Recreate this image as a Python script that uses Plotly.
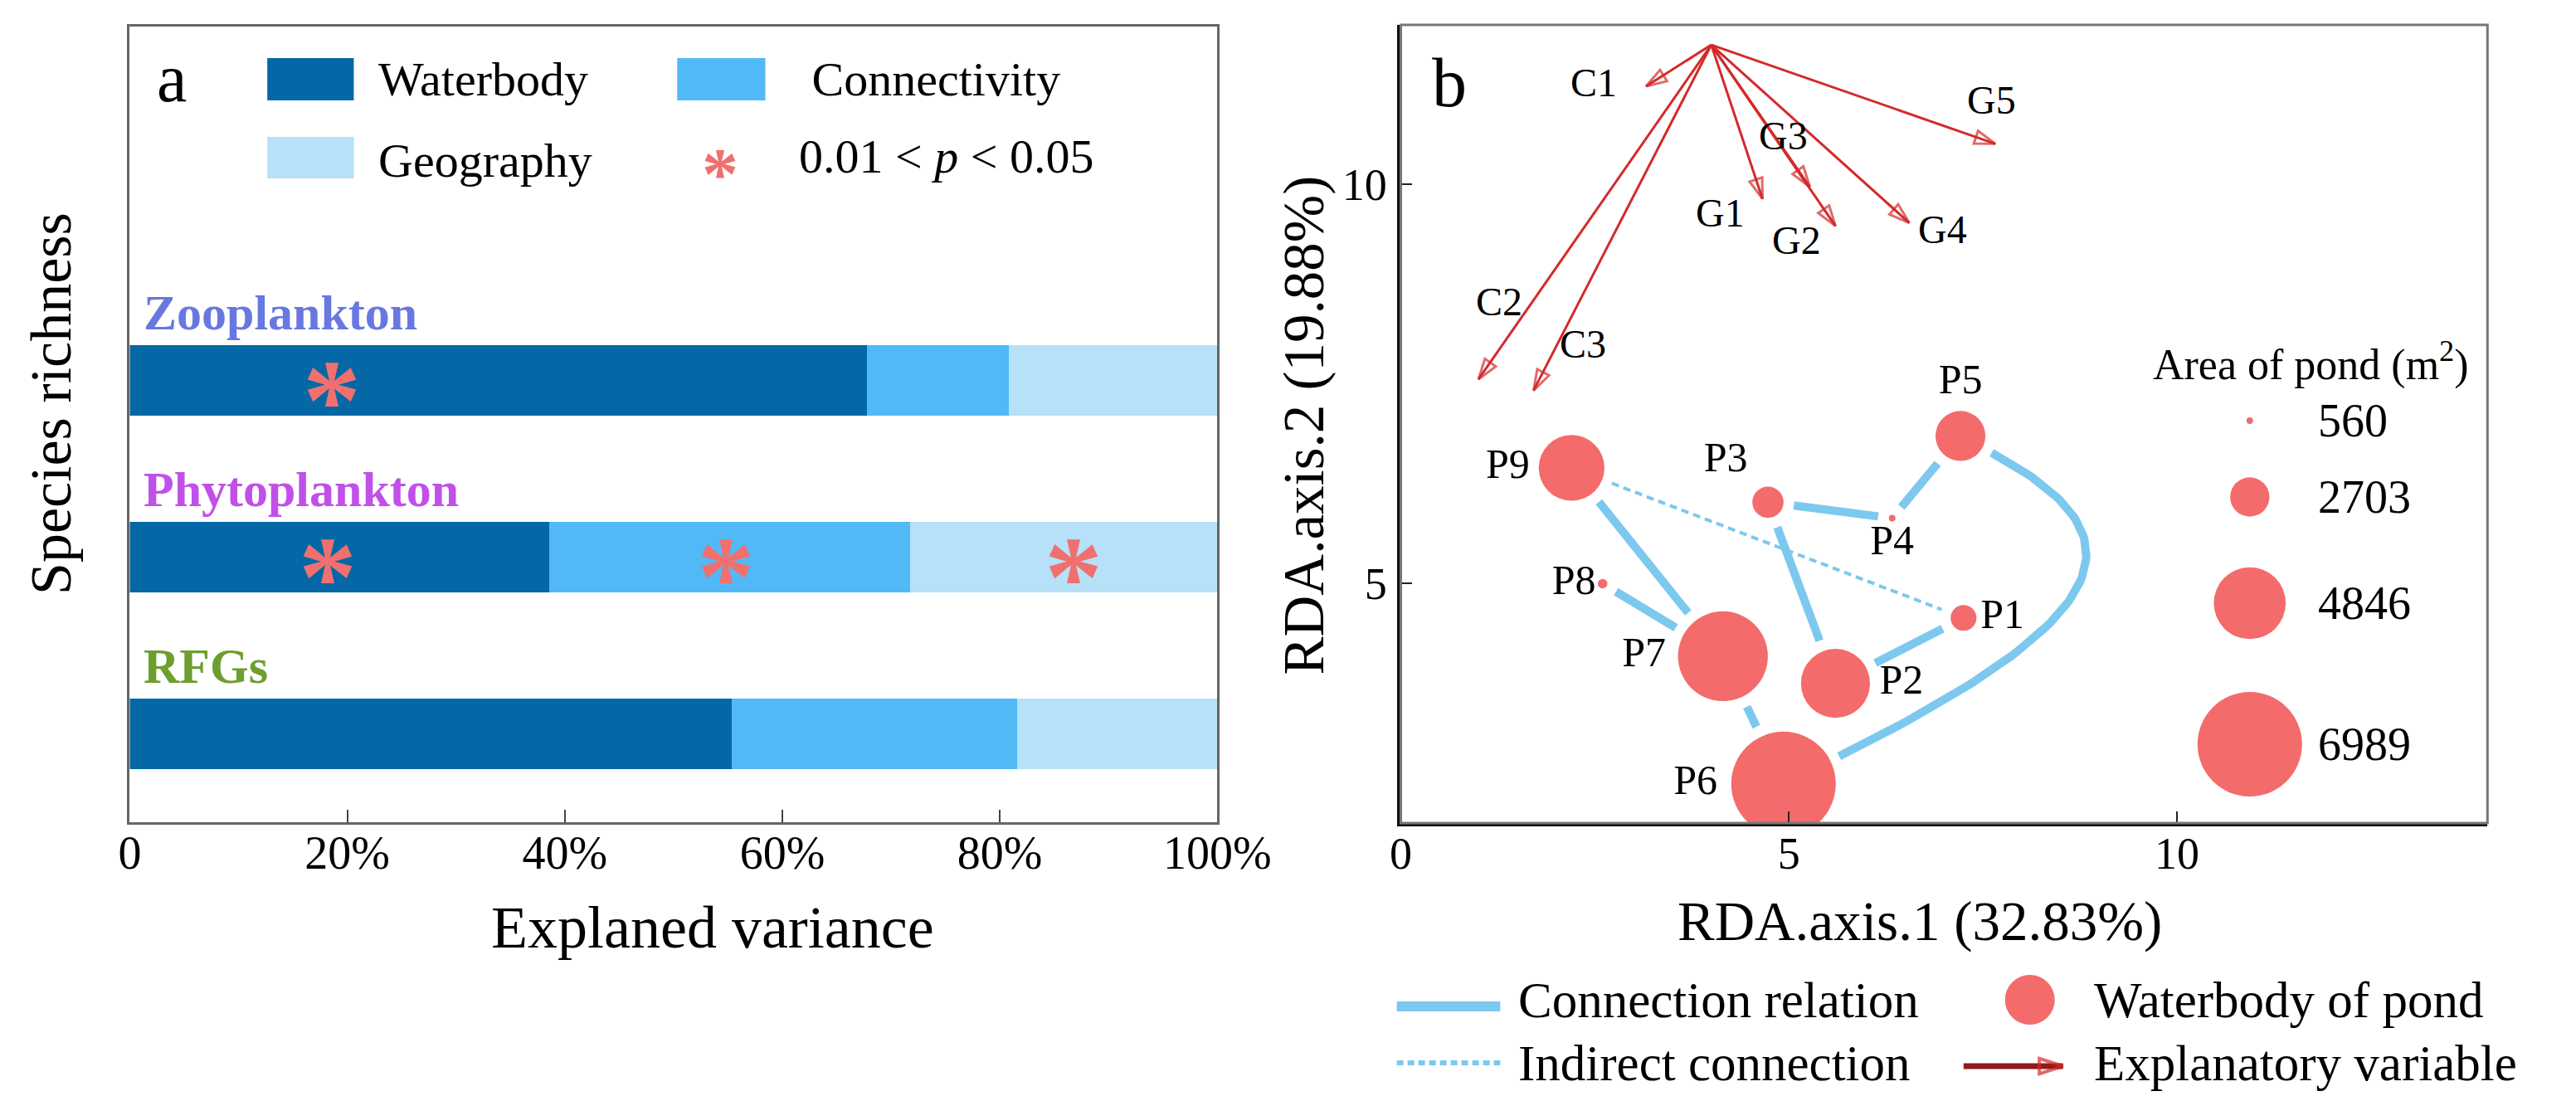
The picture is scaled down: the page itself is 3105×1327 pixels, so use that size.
import numpy as np
import plotly.graph_objects as go

W, H = 3105, 1327
FONT = "Liberation Serif"
STAR_FONT = "Liberation Serif"

# ---------------- data: panel a ----------------
groups = ["Zooplankton", "Phytoplankton", "RFGs"]
group_y = [2, 1, 0]
waterbody = [67.8, 38.6, 55.4]
connectivity = [13.1, 33.2, 26.2]
geography = [19.1, 28.2, 18.4]
star_groups = ["Zooplankton", "Phytoplankton", "Phytoplankton", "Phytoplankton"]
star_x = [18.6, 18.2, 54.8, 86.8]
a_tickvals = [0, 20, 40, 60, 80, 100]
a_ticktext = ["0", "20%", "40%", "60%", "80%", "100%"]

# ---------------- data: panel b ----------------
ponds = ["P1", "P2", "P3", "P4", "P5", "P6", "P7", "P8", "P9"]
pond_x = [7.25, 5.60, 4.73, 6.33, 7.21, 4.93, 4.15, 2.60, 2.20]
pond_y = [4.57, 3.75, 6.02, 5.82, 6.85, 2.49, 4.09, 5.00, 6.45]
pond_area = [1817, 4658, 2172, 560, 3401, 6989, 6024, 750, 4440]
links = [("P9", "P7"), ("P8", "P7"), ("P7", "P6"), ("P3", "P4"),
         ("P4", "P5"), ("P3", "P2"), ("P2", "P1")]
curved_links = [("P5", "P6")]
indirect_links = [("P9", "P1")]
variables = ["C1", "C2", "C3", "G1", "G2", "G3", "G4", "G5"]
var_x = [3.16, 1.00, 1.71, 4.66, 5.60, 5.27, 6.55, 7.66]
var_y = [11.23, 7.56, 7.42, 9.82, 9.48, 9.97, 9.52, 10.51]
var_origin = [4.0, 11.75]
area_levels = [560, 2703, 4846, 6989]
b_xticks = [0, 5, 10]
b_yticks = [5, 10]

# ---------------- style / layout ----------------
C_WATER, C_CONN, C_GEO = "#0568A6", "#52B9F7", "#B6E1F8"
C_STAR, C_POND, C_LINK, C_ARROW = "#F07070", "#F46B6B", "#7DC8EE", "#D42A2A"
label_colors = {"Zooplankton": "#6878E0", "Phytoplankton": "#C050E8", "RFGs": "#6E9E2E"}

A_L, A_R, A_T, A_B = 138, 1483, 24, 983
B_L, B_R, B_T, B_B = 1710, 3054, 22, 984
B_XR, B_YR = [0, 14], [2, 12]
PPU = (B_R - B_L) / (B_XR[1] - B_XR[0])

pond_textpos = {"P1": "middle right", "P2": "middle right", "P3": "top left",
                "P4": "bottom center", "P5": "top center", "P6": "middle left",
                "P7": "middle left", "P8": "middle left", "P9": "middle left"}
var_label_pos = {"C1": (2.48, 11.28), "C2": (1.27, 8.53), "C3": (2.35, 8.0),
                 "G1": (4.12, 9.65), "G2": (5.1, 9.3), "G3": (4.93, 10.61),
                 "G4": (6.98, 9.44), "G5": (7.61, 11.06)}
curve_ctrl = [(9.6, 5.6), (9.3, 4.6)]
LINK_GAP = 0.14  # data units between circle edge and line end
size_leg_px = (2760, [499, 591, 719, 889])  # pixel placement of the size legend


def px(x):
    return x / W


def py(y):
    return 1 - y / H


def bx(xpix):
    return B_XR[0] + (xpix - B_L) / PPU


def by(ypix):
    return B_YR[0] + (B_B - ypix) / ((B_B - B_T) / (B_YR[1] - B_YR[0]))


def diam(a):
    lo, hi = min(area_levels), max(area_levels)
    return 8 + (a - lo) * (126 - 8) / (hi - lo)


def ptext(txt, xx, yy, size, xanchor="center", yanchor="middle", angle=0, color="black",
          family=FONT, yshift=0):
    return dict(x=px(xx), y=py(yy), xref="paper", yref="paper", xanchor=xanchor,
                yanchor=yanchor, showarrow=False, text=txt, textangle=angle, yshift=yshift,
                font=dict(family=family, size=size, color=color))


fig = go.Figure()

# ---------- panel a: stacked bars ----------
for name, vals, col in [("Waterbody", waterbody, C_WATER),
                        ("Connectivity", connectivity, C_CONN),
                        ("Geography", geography, C_GEO)]:
    fig.add_trace(go.Bar(x=vals, y=group_y, orientation="h", name=name,
                         marker=dict(color=col, line=dict(width=0)),
                         width=0.4, xaxis="x", yaxis="y"))

annotations = []
for g, sx in zip(star_groups, star_x):
    annotations.append(dict(x=sx, y=group_y[groups.index(g)], xref="x", yref="y",
                            xanchor="center", yanchor="middle",
                            text="<b>*</b>", showarrow=False, yshift=-24,
                            font=dict(family=STAR_FONT, size=140, color=C_STAR)))
for g, gy in zip(groups, group_y):
    annotations.append(dict(x=1.1, y=gy + 0.38, xref="x", yref="y", xanchor="left",
                            yanchor="middle", showarrow=False,
                            text="<b>%s</b>" % g,
                            font=dict(family=FONT, size=60, color=label_colors[g])))

# ---------- panel b ----------
pidx = {p: i for i, p in enumerate(ponds)}
prad = [diam(a) / 2 / PPU for a in pond_area]


def shrunk(p1, p2):
    i, j = pidx[p1], pidx[p2]
    x0, y0, x1, y1 = pond_x[i], pond_y[i], pond_x[j], pond_y[j]
    d = np.hypot(x1 - x0, y1 - y0)
    ux, uy = (x1 - x0) / d, (y1 - y0) / d
    s0, s1 = prad[i] + LINK_GAP, prad[j] + LINK_GAP
    return [x0 + ux * s0, x1 - ux * s1], [y0 + uy * s0, y1 - uy * s1]


for p1, p2 in indirect_links:
    xs, ys = shrunk(p1, p2)
    fig.add_trace(go.Scatter(x=xs, y=ys, mode="lines", xaxis="x2", yaxis="y2",
                             line=dict(color=C_LINK, width=4, dash="9px,6px")))
for p1, p2 in links:
    xs, ys = shrunk(p1, p2)
    fig.add_trace(go.Scatter(x=xs, y=ys, mode="lines", xaxis="x2", yaxis="y2",
                             line=dict(color=C_LINK, width=10)))
for p1, p2 in curved_links:
    i, j = pidx[p1], pidx[p2]
    c1, c2 = np.array(curve_ctrl[0]), np.array(curve_ctrl[1])
    a0 = np.array([pond_x[i], pond_y[i]])
    a1 = np.array([pond_x[j], pond_y[j]])
    d0 = (c1 - a0) / np.linalg.norm(c1 - a0)
    d1 = (c2 - a1) / np.linalg.norm(c2 - a1)
    s = a0 + d0 * (prad[i] + LINK_GAP)
    e = a1 + d1 * (prad[j] + LINK_GAP)
    t = np.linspace(0, 1, 80)[:, None]
    pts = (1 - t) ** 3 * s + 3 * (1 - t) ** 2 * t * c1 + 3 * (1 - t) * t ** 2 * c2 + t ** 3 * e
    fig.add_trace(go.Scatter(x=pts[:, 0], y=pts[:, 1], mode="lines", xaxis="x2", yaxis="y2",
                             line=dict(color=C_LINK, width=10)))

fig.add_trace(go.Scatter(x=pond_x, y=pond_y, mode="markers+text", xaxis="x2", yaxis="y2",
                         text=ponds, textposition=[pond_textpos[p] for p in ponds],
                         textfont=dict(family=FONT, size=50, color="black"),
                         marker=dict(size=[diam(a) for a in pond_area], color=C_POND,
                                     line=dict(width=0), opacity=1)))

for v, vx, vy in zip(variables, var_x, var_y):
    fig.add_trace(go.Scatter(x=[var_origin[0], vx], y=[var_origin[1], vy],
                             mode="lines+markers", xaxis="x2", yaxis="y2",
                             line=dict(color=C_ARROW, width=3),
                             marker=dict(symbol="arrow-open", size=[0, 26], angleref="previous",
                                         color=C_ARROW, line=dict(color=C_ARROW, width=3))))
    lx, ly = var_label_pos[v]
    annotations.append(dict(x=lx, y=ly, xref="x2", yref="y2", text=v, showarrow=False,
                            xanchor="center", yanchor="middle",
                            font=dict(family=FONT, size=48, color="black")))

# size legend (inside panel b)
sx_pix, sy_pix = size_leg_px
fig.add_trace(go.Scatter(x=[bx(sx_pix)] * len(area_levels), y=[by(v) for v in sy_pix],
                         mode="markers", xaxis="x2", yaxis="y2", cliponaxis=False,
                         marker=dict(size=[diam(a) for a in area_levels], color=C_POND,
                                     line=dict(width=0), opacity=1)))
for a, yy in zip(area_levels, sy_pix):
    annotations.append(ptext(str(a), 2842, yy, 56, xanchor="left"))
annotations.append(ptext("Area of pond (m<sup>2</sup>)", 2836, 428, 52))

# bottom legend keys (overlay pixel axis)
R1, R2 = 1197, 1273
fig.add_trace(go.Scatter(x=[1705, 1833], y=[R1 + 8, R1 + 8], mode="lines", xaxis="x3", yaxis="y3",
                         line=dict(color=C_LINK, width=12)))
fig.add_trace(go.Scatter(x=[1705, 1833], y=[R2, R2], mode="lines", xaxis="x3", yaxis="y3",
                         line=dict(color=C_LINK, width=6, dash="8px,5px")))
fig.add_trace(go.Scatter(x=[2488], y=[R1], mode="markers", xaxis="x3", yaxis="y3",
                         marker=dict(size=60, color=C_POND, line=dict(width=0))))
fig.add_trace(go.Scatter(x=[2406, 2529], y=[R2 + 4, R2 + 4], mode="lines+markers",
                         xaxis="x3", yaxis="y3",
                         line=dict(color="#8E1B1B", width=7),
                         marker=dict(symbol="arrow-open", size=[0, 30], angleref="previous",
                                     color=C_ARROW, line=dict(color=C_ARROW, width=4))))
for txt, xx, yy in [("Connection relation", 1853, R1), ("Indirect connection", 1853, R2),
                    ("Waterbody of pond", 2565, R1), ("Explanatory variable", 2565, R2)]:
    annotations.append(ptext(txt, xx, yy, 61, xanchor="left"))

# panel a legend
shapes = []
for col, (x0, x1, y0, y1) in [(C_WATER, (308, 415, 62, 113)), (C_CONN, (815, 924, 62, 113)),
                              (C_GEO, (308, 415, 157, 207))]:
    shapes.append(dict(type="rect", xref="paper", yref="paper", x0=px(x0), x1=px(x1),
                       y0=py(y1), y1=py(y0), fillcolor=col, line=dict(width=0)))
for txt, xx, yy in [("Waterbody", 443, 88), (" Connectivity", 965, 88),
                    ("Geography", 443, 185), ("0.01 &lt; <i>p</i> &lt; 0.05", 964, 180)]:
    annotations.append(ptext(txt, xx, yy, 58, xanchor="left"))
annotations.append(ptext("<b>*</b>", 868, 186, 88, color=C_STAR, family=STAR_FONT, yshift=-15))
annotations.append(ptext("a", 190, 86, 82))
annotations.append(ptext("b", 1770, 92, 84))

# axis titles
annotations += [
    ptext("Explaned variance", 859, 1110, 72),
    ptext("Species richness", 40, 478, 70, angle=-90),
    ptext("RDA.axis.1 (32.83%)", 2352, 1102, 67),
    ptext("RDA.axis.2 (19.88%)", 1590, 505, 69, angle=-90),
]

# panel b border (top/right grey)
shapes.append(dict(type="rect", xref="x2 domain", yref="y2 domain", x0=0, x1=1, y0=0, y1=1,
                   line=dict(color="#777777", width=3), layer="above"))

axis_font_a = dict(family=FONT, size=56, color="black")
axis_font_b = dict(family=FONT, size=54, color="black")

fig.update_layout(
    width=W, height=H, margin=dict(l=0, r=0, t=0, b=0),
    paper_bgcolor="white", plot_bgcolor="rgba(0,0,0,0)",
    showlegend=False, barmode="stack", bargap=0,
    font=dict(family=FONT),
    xaxis=dict(domain=[px(A_L), px(A_R)], range=[0, 100], anchor="y",
               tickvals=a_tickvals, ticktext=a_ticktext, ticks="inside", ticklen=15,
               tickwidth=2, tickcolor="#444", tickfont=axis_font_a, ticklabelstandoff=-14,
               showline=True, mirror=True, linecolor="#666", linewidth=3,
               showgrid=False, zeroline=False, fixedrange=True),
    yaxis=dict(domain=[py(A_B), py(A_T)], range=[-0.5, 4.0], anchor="x",
               showticklabels=False, ticks="", showline=True, mirror=True,
               linecolor="#666", linewidth=3, showgrid=False, zeroline=False, fixedrange=True),
    xaxis2=dict(domain=[px(B_L), px(B_R)], range=B_XR, anchor="y2",
                tickvals=b_xticks, ticks="inside", ticklen=14, tickwidth=2, tickcolor="#222",
                tickfont=axis_font_b, ticklabelstandoff=-14,
                showline=True, linecolor="#111", linewidth=4,
                showgrid=False, zeroline=False, fixedrange=True),
    yaxis2=dict(domain=[py(B_B), py(B_T)], range=B_YR, anchor="x2",
                tickvals=b_yticks, ticks="inside", ticklen=14, tickwidth=2, tickcolor="#222",
                tickfont=axis_font_b, ticklabelstandoff=2,
                showline=True, linecolor="#111", linewidth=4,
                showgrid=False, zeroline=False, fixedrange=True),
    xaxis3=dict(domain=[0, 1], range=[0, W], anchor="y3", visible=False, fixedrange=True),
    yaxis3=dict(domain=[0, 1], range=[H, 0], anchor="x3", visible=False, fixedrange=True),
    annotations=annotations, shapes=shapes,
)

fig.write_html("out.html")
